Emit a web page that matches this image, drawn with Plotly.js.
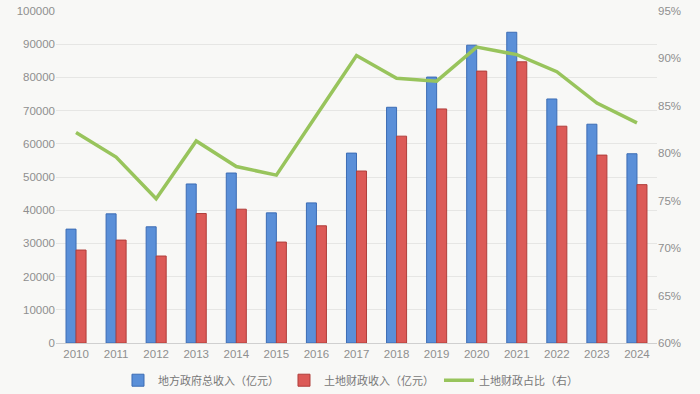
<!DOCTYPE html>
<html><head><meta charset="utf-8">
<script src="https://cdn.plot.ly/plotly-3.0.1.min.js"></script>
<style>html,body{margin:0;padding:0;background:#f8f8f6;}#chart{width:700px;height:394px;}</style>
</head><body><div id="chart"></div>
<script>
const years = ['2010','2011','2012','2013','2014','2015','2016','2017','2018','2019','2020','2021','2022','2023','2024'];
const totalRevenue = [34300,38900,35000,47900,51200,39200,42200,57200,71000,80100,89700,93600,73500,65900,57000];
const landRevenue = [28000,31000,26200,39000,40300,30400,35300,51800,62300,70500,81900,84700,65300,56600,47700];
const landShare = [82.2,79.6,75.2,81.3,78.6,77.7,84.0,90.3,87.9,87.6,91.2,90.4,88.6,85.3,83.2];
const names = ['地方政府总收入（亿元）','土地财政收入（亿元）','土地财政占比（右）'];

const traces = [
  {type:'bar', x:years, y:totalRevenue, name:names[0], yaxis:'y',
   marker:{color:'#5a8fd8', line:{color:'#3c6cb4', width:1}}},
  {type:'bar', x:years, y:landRevenue, name:names[1], yaxis:'y',
   marker:{color:'#dc5a57', line:{color:'#b03e3b', width:1}}},
  {type:'scatter', mode:'lines', x:years, y:landShare, name:names[2], yaxis:'y2',
   line:{color:'#98c45c', width:3.5}}
];
const tickFont = {family:'Liberation Sans, sans-serif', size:11.5, color:'#8f8f8f'};
const layout = {
  width:700, height:394,
  paper_bgcolor:'#f8f8f6', plot_bgcolor:'rgba(0,0,0,0)',
  margin:{l:56, r:43, t:11, b:51, autoexpand:false},
  barmode:'group', bargap:0.5, bargroupgap:0,
  showlegend:true,
  legend:{orientation:'h', xref:'paper', x:0.49, xanchor:'center', yref:'container', y:0.035, yanchor:'middle',
    font:{family:'Noto Sans CJK SC, sans-serif', size:11, color:'#777'}, itemwidth:30, traceorder:'normal'},
  xaxis:{type:'category', tickfont:tickFont, showline:true, linecolor:'#d0d0d0', linewidth:1, ticks:'', showgrid:false, automargin:false},
  yaxis:{range:[0,100000], dtick:10000, tickfont:tickFont, gridcolor:'#e6e6e4', gridwidth:1, zeroline:false, ticks:'', tickformat:'d', showline:false, automargin:false},
  yaxis2:{range:[60,95], dtick:5, overlaying:'y', side:'right', tickfont:tickFont, ticksuffix:'%', showgrid:false, zeroline:false, ticks:'', automargin:false}
};
Plotly.newPlot('chart', traces, layout, {displayModeBar:false, staticPlot:true});
</script></body></html>
